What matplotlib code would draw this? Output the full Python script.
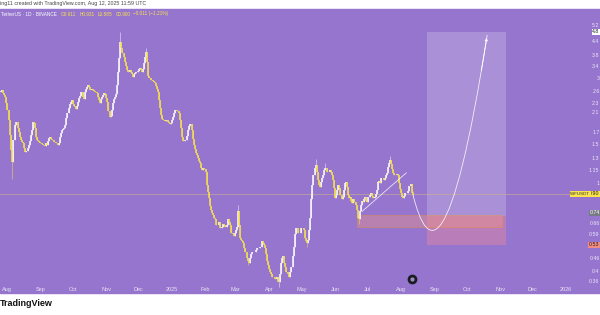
import numpy as np
import matplotlib
matplotlib.use("Agg")
import matplotlib.pyplot as plt
import matplotlib.dates as mdates
from matplotlib.patches import Rectangle, PathPatch
from matplotlib.path import Path

plt.rcParams["font.family"] = ["Liberation Sans", "DejaVu Sans"]

# WIF / TetherUS, 1D candles from 2024-07-25 to 2025-08-12
first_day = "2024-07-25"
first_open = 2.65
closes = [
    2.60, 2.62, 2.65, 2.57, 2.52, 2.47, 2.31, 2.16, 2.16, 1.94,
    1.66, 1.42, 1.26, 1.58, 1.84, 1.90, 1.90, 1.78, 1.71, 1.62,
    1.58, 1.54, 1.53, 1.45, 1.39, 1.40, 1.45, 1.50, 1.56, 1.66,
    1.75, 1.90, 1.88, 1.78, 1.62, 1.58, 1.56, 1.54, 1.53, 1.51,
    1.50, 1.50, 1.48, 1.53, 1.50, 1.56, 1.61, 1.62, 1.59, 1.58,
    1.58, 1.54, 1.53, 1.53, 1.50, 1.53, 1.62, 1.69, 1.75, 1.77,
    1.78, 1.84, 1.98, 2.09, 2.20, 2.29, 2.34, 2.39, 2.29, 2.25,
    2.22, 2.18, 2.25, 2.34, 2.44, 2.49, 2.60, 2.47, 2.42, 2.60,
    2.68, 2.74, 2.80, 2.74, 2.65, 2.65, 2.68, 2.65, 2.62, 2.60,
    2.57, 2.47, 2.39, 2.31, 2.42, 2.47, 2.52, 2.57, 2.55, 2.44,
    2.34, 2.14, 2.01, 2.03, 2.16, 2.31, 2.42, 2.47, 2.55, 2.80,
    3.20, 3.71, 4.37, 4.11, 3.90, 3.75, 3.55, 3.41, 3.27, 3.20,
    3.20, 3.27, 3.20, 3.13, 3.04, 3.13, 3.17, 3.20, 3.24, 3.31,
    3.34, 3.27, 3.20, 3.31, 3.51, 3.75, 3.94, 3.55, 3.07, 3.01,
    2.95, 2.95, 2.92, 2.89, 2.86, 2.77, 2.68, 2.60, 2.39, 2.20,
    2.05, 1.96, 1.94, 1.92, 1.94, 1.94, 1.90, 1.88, 1.86, 1.88,
    1.94, 2.01, 2.09, 2.16, 2.16, 2.14, 2.09, 1.94, 1.78, 1.62,
    1.56, 1.56, 1.58, 1.58, 1.64, 1.75, 1.82, 1.86, 1.75, 1.60,
    1.50, 1.43, 1.38, 1.35, 1.31, 1.27, 1.24, 1.18, 1.16, 1.18,
    1.17, 1.13, 0.99, 0.92, 0.86, 0.79, 0.76, 0.74, 0.72, 0.70,
    0.69, 0.65, 0.65, 0.67, 0.63, 0.63, 0.64, 0.66, 0.65, 0.64,
    0.64, 0.65, 0.69, 0.67, 0.65, 0.60, 0.59, 0.58, 0.60, 0.62,
    0.64, 0.75, 0.65, 0.57, 0.56, 0.55, 0.54, 0.51, 0.49, 0.46,
    0.45, 0.44, 0.46, 0.48, 0.49, 0.49, 0.49, 0.49, 0.50, 0.51,
    0.51, 0.52, 0.52, 0.55, 0.54, 0.53, 0.51, 0.48, 0.45, 0.43,
    0.41, 0.40, 0.39, 0.38, 0.38, 0.37, 0.37, 0.38, 0.36, 0.36,
    0.39, 0.44, 0.46, 0.47, 0.44, 0.42, 0.40, 0.39, 0.38, 0.40,
    0.42, 0.42, 0.47, 0.52, 0.59, 0.63, 0.63, 0.60, 0.60, 0.63,
    0.63, 0.63, 0.62, 0.57, 0.55, 0.54, 0.56, 0.62, 0.70, 0.85,
    0.99, 1.10, 1.18, 1.22, 1.13, 1.04, 0.99, 0.97, 1.02, 1.06,
    1.10, 1.16, 1.18, 1.18, 1.13, 1.13, 1.16, 1.13, 1.10, 1.04,
    0.96, 0.86, 0.89, 0.94, 0.99, 0.96, 0.89, 0.85, 0.87, 0.94,
    1.01, 1.02, 0.97, 0.89, 0.86, 0.87, 0.84, 0.82, 0.85, 0.83,
    0.80, 0.76, 0.70, 0.69, 0.75, 0.80, 0.84, 0.83, 0.85, 0.87,
    0.84, 0.83, 0.87, 0.89, 0.91, 0.88, 0.86, 0.86, 0.87, 0.90,
    0.94, 1.02, 1.03, 1.01, 1.06, 1.06, 1.04, 1.06, 1.09, 1.12,
    1.19, 1.24, 1.28, 1.23, 1.17, 1.12, 1.09, 1.09, 1.11, 1.09,
    1.01, 0.95, 0.91, 0.87, 0.86, 0.88, 0.91, 0.91, 0.91, 0.93,
    0.98, 1.00, 0.911, 0.900,
]
# the few wicks that stick out of the bodies (candle index -> price)
wick_highs = {12: 1.40, 110: 3.35, 112: 4.85, 136: 4.10, 221: 0.80,
              289: 0.90, 293: 1.30, 302: 1.24, 362: 1.33, 383: 0.931}
wick_lows = {12: 1.05, 230: 0.43, 259: 0.34, 285: 0.52, 333: 0.66, 383: 0.885}

month_dates = ["2024-08-01", "2024-09-01", "2024-10-01", "2024-11-01", "2024-12-01",
               "2025-01-01", "2025-02-01", "2025-03-01", "2025-04-01", "2025-05-01",
               "2025-06-01", "2025-07-01", "2025-08-01", "2025-09-01", "2025-10-01",
               "2025-11-01", "2025-12-01", "2026-01-01"]
month_labels = ["Aug", "Sep", "Oct", "Nov", "Dec", "2025", "Feb", "Mar", "Apr", "May",
                "Jun", "Jul", "Aug", "Sep", "Oct", "Nov", "Dec", "2026"]
price_ticks = [5.2, 4.4, 3.8, 3.4, 3.0, 2.6, 2.3, 2.1, 1.7, 1.5, 1.3, 1.15, 1.0,
               0.66, 0.59, 0.46, 0.40, 0.36]
header_parts = ["O0.911", "H0.931", "L0.885", "C0.900", "\u22120.011 (\u22121.21%)"]

last_price = 0.900
# drawings
trend_dates = ["2025-06-26", "2025-08-06"]
trend_prices = [0.75, 1.12]
zone_dates = ["2025-06-21", "2025-11-03"]
zone_prices = [0.64, 0.72]
long_dates = ["2025-08-25", "2025-11-06"]
long_entry, long_target, long_stop = 0.716, 4.85, 0.53
curve_dates = ["2025-08-12", "2025-08-26", "2025-09-17", "2025-10-20"]
curve_prices = [0.90, 0.477, 0.444, 4.70]
event_date, event_price = "2025-08-11", 0.37

PURPLE = "#9575cd"
UP = "#ffffff"
DOWN = "#fbe44b"
TXT = "#ece6f7"

fig = plt.figure(figsize=(6, 3.15), dpi=100)
fig.patch.set_facecolor("white")
band_bottom, band_top = 1 - 293 / 315, 1 - 9 / 315
fig.patches.append(Rectangle((0, band_bottom), 1, band_top - band_bottom,
                             transform=fig.transFigure, color=PURPLE, zorder=-10))
ax = fig.add_axes([0, band_bottom, 591 / 600, band_top - band_bottom])
ax.set_facecolor(PURPLE)
ax.set_yscale("log")
ax.set_ylim(0.321, 6.16)
d0 = mdates.date2num(np.datetime64("2024-08-01"))
ax.set_xlim(d0 - 6.49, d0 + 541.2)
for s in ax.spines.values():
    s.set_visible(False)
ax.set_xticks([])
ax.set_yticks([])
ax.minorticks_off()

# candles
dates = np.arange(np.datetime64(first_day), np.datetime64(first_day) + len(closes))
x = mdates.date2num(dates)
c = np.array(closes)
o = np.array([first_open] + closes[:-1])
hi = np.array([wick_highs.get(i, max(o[i], c[i])) for i in range(len(c))])
lo = np.array([wick_lows.get(i, min(o[i], c[i])) for i in range(len(c))])
up = c >= o
for mask, col in [(up, UP), (~up, DOWN)]:
    ax.vlines(x[mask], lo[mask], hi[mask], color=col, lw=0.6, alpha=0.55, zorder=3)
    ax.vlines(x[mask], np.minimum(o, c)[mask], np.maximum(o, c)[mask], color=col,
              lw=1.1, zorder=4)

# last price line
ax.axhline(last_price, color="#c9ad8c", lw=0.6, alpha=0.75, zorder=2)

# long position tool
lx = mdates.date2num(np.array(long_dates, dtype="datetime64[D]"))
ax.add_patch(Rectangle((lx[0], long_entry), lx[1] - lx[0], long_target - long_entry,
                       facecolor="white", alpha=0.2, lw=0, zorder=1))
ax.add_patch(Rectangle((lx[0], long_stop), lx[1] - lx[0], long_entry - long_stop,
                       facecolor="#ff8c96", alpha=0.35, lw=0, zorder=1))
# support zone
zx = mdates.date2num(np.array(zone_dates, dtype="datetime64[D]"))
ax.add_patch(Rectangle((zx[0], zone_prices[0]), zx[1] - zx[0], zone_prices[1] - zone_prices[0],
                       facecolor="#ff9878", alpha=0.35, edgecolor="#ff9800", lw=0.6, zorder=1.5))

# trend line
tx = mdates.date2num(np.array(trend_dates, dtype="datetime64[D]"))
ax.plot(tx, trend_prices, color="white", lw=0.6, alpha=0.8, zorder=5)

# projected path (bezier)
cx = mdates.date2num(np.array(curve_dates, dtype="datetime64[D]"))
path = Path(list(zip(cx, curve_prices)), [Path.MOVETO, Path.CURVE4, Path.CURVE4, Path.CURVE4])
ax.add_patch(PathPatch(path, facecolor="none", edgecolor="white", lw=0.6, alpha=0.85, zorder=5))
t = 0.94
lp = np.log(curve_prices)
bx = (1 - t) ** 3 * cx[0] + 3 * (1 - t) ** 2 * t * cx[1] + 3 * (1 - t) * t ** 2 * cx[2] + t ** 3 * cx[3]
by = np.exp((1 - t) ** 3 * lp[0] + 3 * (1 - t) ** 2 * t * lp[1] + 3 * (1 - t) * t ** 2 * lp[2] + t ** 3 * lp[3])
ax.annotate("", xy=(cx[3], curve_prices[3]), xytext=(bx, by),
            arrowprops=dict(arrowstyle="-|>", color="white", lw=0.6, mutation_scale=4), zorder=6)

# events icon
ev = mdates.date2num(np.datetime64(event_date))
ax.plot([ev], [event_price], "o", ms=6, color="#1b1b22", zorder=6)
ax.plot([ev], [event_price], "o", ms=2, color="#9a8cc0", zorder=7)

# date labels
for d, lab in zip(month_dates, month_labels):
    ax.text(mdates.date2num(np.datetime64(d)), 0.014, lab, transform=ax.get_xaxis_transform(),
            ha="center", va="center", fontsize=4, color=TXT)

# price labels, right aligned against the picture edge
yt = ax.get_yaxis_transform()
xr = 599.5 / 591
for p in price_ticks:
    ax.text(xr, p, f"{p:g}", transform=yt, ha="right", va="center", fontsize=3.8,
            color=TXT, clip_on=False)
box_labels = [(4.85, "4.8", "white", "#222222"), (0.74, "0.74", "#787b86", "white"),
              (0.53, "0.53", "#f28b82", "#222222"), (last_price, "0.90", DOWN, "#222222")]
for p, lab, bg, fg in box_labels:
    ax.text(xr, p, lab, transform=yt, ha="right", va="center", fontsize=3.8, color=fg,
            clip_on=False, bbox=dict(boxstyle="square,pad=0.1", fc=bg, ec="none"))
ax.text(0.9985, last_price, "WIFUSDT", transform=yt, ha="right", va="center", fontsize=3.2,
        color="#333333", bbox=dict(boxstyle="square,pad=0.15", fc=DOWN, ec="none"))

# header line, parts laid out one after the other
hy = 1 - 14 / 315
renderer = fig.canvas.get_renderer()
t0 = fig.text(0.002, hy, "TetherUS · 1D · BINANCE", fontsize=3.4, color="white", va="center")
xpos = t0.get_window_extent(renderer).x1 + 4
for s in header_parts:
    tt = fig.text(xpos / 600, hy, s, fontsize=3.4, color=DOWN, va="center")
    xpos = tt.get_window_extent(renderer).x1 + 3

fig.text(0.0, 1 - 4 / 315, "ing11 created with TradingView.com, Aug 12, 2025 11:59 UTC",
         fontsize=3.8, color="#444444", va="center")
fig.text(0.0, 1 - 304 / 315, "TradingView", fontsize=6.5, fontweight="bold",
         color="#111111", va="center")

fig.savefig("out.png", dpi=100)
